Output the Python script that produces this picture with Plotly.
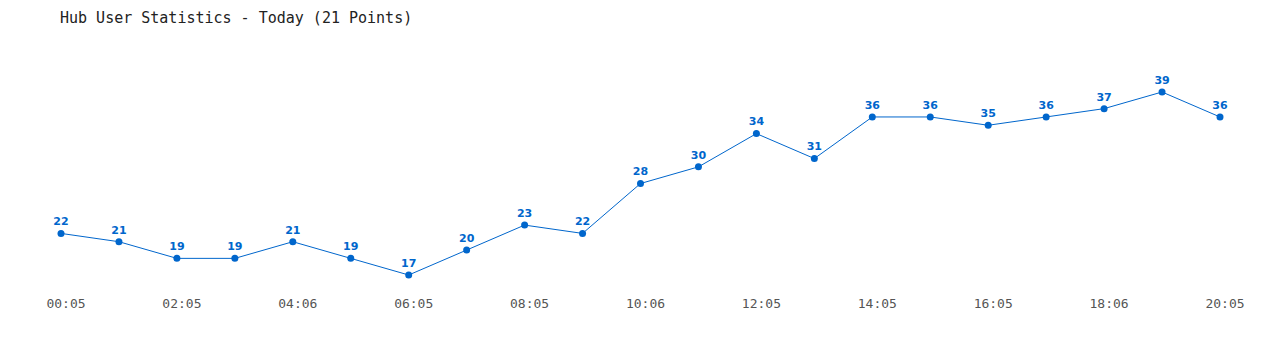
import plotly.graph_objects as go

times = ["00:05", "01:05", "02:05", "03:05", "04:06", "05:05", "06:05", "07:05",
         "08:05", "09:05", "10:06", "11:05", "12:05", "13:05", "14:05", "15:05",
         "16:05", "17:05", "18:06", "19:05", "20:05"]
users = [22, 21, 19, 19, 21, 19, 17, 20, 23, 22, 28, 30, 34, 31, 36, 36, 35, 36, 37, 39, 36]
tick_idx = list(range(0, 21, 2))
tick_labels = [times[i] for i in tick_idx]

x = list(range(len(users)))
color = "#0066cc"

fig = go.Figure()
fig.add_trace(go.Scatter(
    x=x, y=users, mode="lines+markers+text",
    line=dict(color=color, width=1),
    marker=dict(color=color, size=7),
    text=[str(v) for v in users], textposition="top center",
    textfont=dict(family="DejaVu Sans", size=11, color=color, weight="bold"),
    hoverinfo="skip",
))

fig.update_layout(
    width=1280, height=350,
    margin=dict(l=61, r=60, t=50, b=56),
    paper_bgcolor="white", plot_bgcolor="white",
    showlegend=False,
    title=dict(text="Hub User Statistics - Today (21 Points)",
               x=60/1280, xanchor="left", y=1-18/350, yanchor="middle",
               font=dict(family="DejaVu Sans Mono", size=15, color="#222222")),
    xaxis=dict(range=[0, 20], tickvals=tick_idx, ticktext=tick_labels,
               showgrid=False, zeroline=False, showline=False, ticks="",
               ticklabelshift=5,
               tickfont=dict(family="DejaVu Sans Mono", size=13, color="#555555"),
               fixedrange=True),
    yaxis=dict(range=[14.716, 44.05], showgrid=False, zeroline=False, showline=False,
               showticklabels=False, ticks="", fixedrange=True),
)
fig.update_traces(cliponaxis=False)

fig.write_html("out.html")
